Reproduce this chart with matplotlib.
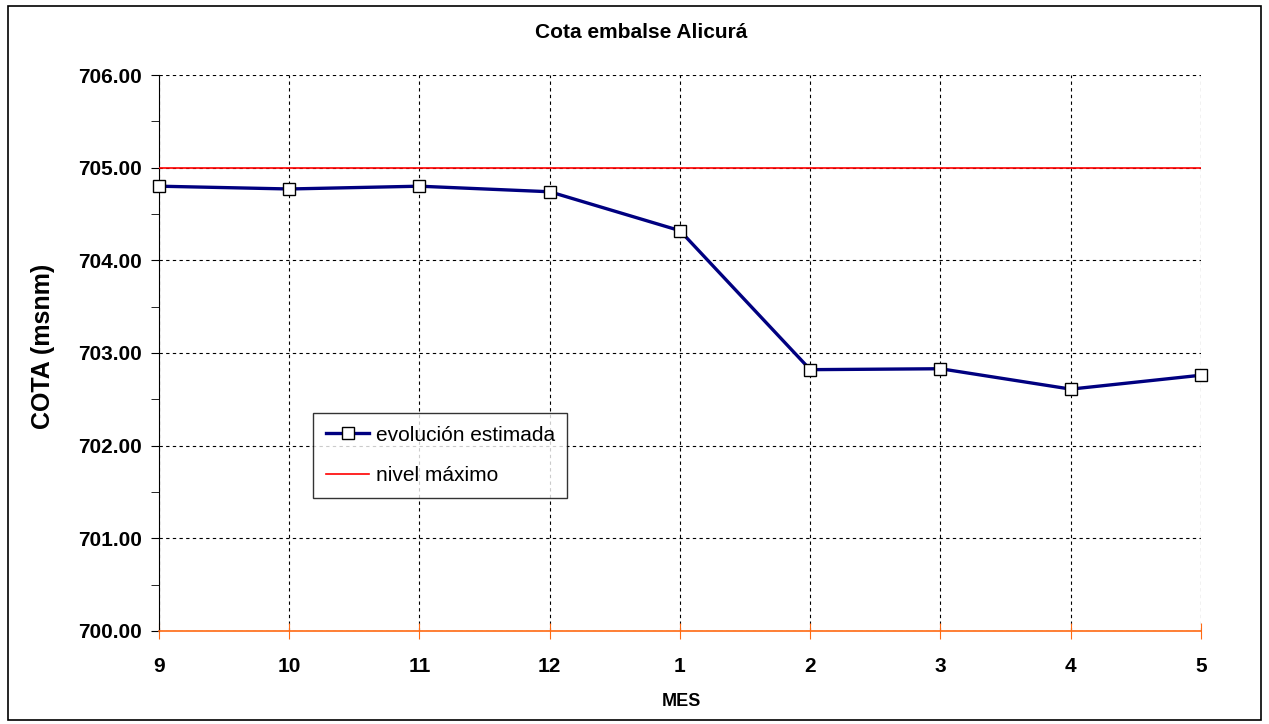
import matplotlib
matplotlib.use("Agg")
import matplotlib.pyplot as plt
from matplotlib.patches import Rectangle
from matplotlib.ticker import MultipleLocator, FormatStrFormatter

plt.rcParams["font.family"] = ["Liberation Sans", "DejaVu Sans"]

meses = ["9", "10", "11", "12", "1", "2", "3", "4", "5"]
cota_estimada = [704.80, 704.77, 704.80, 704.74, 704.32, 702.82, 702.83, 702.61, 702.76]
nivel_maximo = [705.00] * len(meses)

x = list(range(len(meses)))

fig = plt.figure(figsize=(12.69, 7.24), dpi=100)
fig.patches.append(Rectangle((0.0065, 0.006), 0.987, 0.986, transform=fig.transFigure,
                             fill=False, edgecolor="black", linewidth=1.2))
ax = fig.add_axes([0.1253, 0.1285, 0.8211, 0.7679])

ax.plot(x, nivel_maximo, color="#FF0000", linewidth=1.2, label="nivel máximo", zorder=3)
ax.plot(x, cota_estimada, color="#000080", linewidth=2.4, marker="s", markersize=8,
        markerfacecolor="white", markeredgecolor="black", markeredgewidth=1.0,
        label="evolución estimada", zorder=4, clip_on=False)

ax.set_xlim(0, len(meses) - 1)
ax.set_ylim(700, 706)
ax.set_xticks(x)
ax.set_xticklabels(meses)
ax.yaxis.set_major_locator(MultipleLocator(1))
ax.yaxis.set_minor_locator(MultipleLocator(0.5))
ax.yaxis.set_major_formatter(FormatStrFormatter("%.2f"))

ax.grid(True, which="major", color="black", linestyle=(0, (3, 3)), linewidth=0.8)
for s in ["top", "right"]:
    ax.spines[s].set_visible(False)
ax.spines["left"].set_color("black")
ax.spines["bottom"].set_color("#FF6A13")
ax.spines["bottom"].set_linewidth(1.2)
ax.spines["bottom"].set_zorder(5)

ax.tick_params(axis="y", which="both", direction="out", length=6, color="black",
               labelsize=15, pad=6)
ax.tick_params(axis="x", direction="inout", length=12, color="#FF6A13",
               labelsize=15, pad=13)
for lbl in ax.get_xticklabels() + ax.get_yticklabels():
    lbl.set_fontweight("bold")

# titles placed in figure coords, as in the original chart area
fig.text(641 / 1269, 1 - 33 / 724, "Cota embalse Alicurá", fontsize=15,
         fontweight="bold", ha="center", va="center")
fig.text(681 / 1269, 1 - 701 / 724, "MES", fontsize=13, fontweight="bold",
         ha="center", va="center")
fig.text(43 / 1269, 1 - 346 / 724, "COTA (msnm)", fontsize=18, fontweight="bold",
         ha="center", va="center", rotation=90)

handles, labels = ax.get_legend_handles_labels()
leg = ax.legend(handles[::-1], labels[::-1], loc="upper left",
                bbox_to_anchor=(0.148, 0.392), borderaxespad=0, fontsize=15,
                frameon=True, fancybox=False, edgecolor="black", borderpad=0.6,
                labelspacing=1.05, handlelength=2.1, handletextpad=0.3)
leg.get_frame().set_linewidth(1.0)

fig.savefig("out.png", dpi=100)
